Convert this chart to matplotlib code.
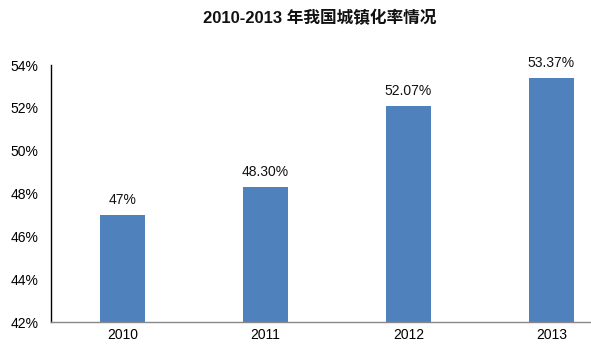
import matplotlib.pyplot as plt

plt.rcParams['font.family'] = ['Liberation Sans', 'Noto Sans CJK SC', 'DejaVu Sans']

# data
years = ["2010", "2011", "2012", "2013"]
rates = [47.00, 48.30, 52.07, 53.37]
rate_labels = ["47%", "48.30%", "52.07%", "53.37%"]
y_ticks = [42, 44, 46, 48, 50, 52, 54]

fig = plt.figure(figsize=(5.91, 3.55), dpi=100)
ax = fig.add_axes([51 / 591, (355 - 322) / 355, 572 / 591, (322 - 65) / 355])

x = range(len(years))
bars = ax.bar(x, rates, width=0.31, color="#4F81BD", bottom=0)

for xi, v, lab in zip(x, rates, rate_labels):
    ax.annotate(lab, (xi, v), xytext=(0, 6), textcoords="offset points",
                ha="center", va="bottom", fontsize=10, color="#111111")

ax.set_xlim(-0.5, 3.5)
ax.set_ylim(42, 54)
ax.set_xticks(list(x))
ax.set_xticklabels(years, fontsize=10)
ax.set_yticks(y_ticks)
ax.set_yticklabels([f"{t}%" for t in y_ticks], fontsize=10)
ax.tick_params(length=0)
ax.tick_params(axis="y", pad=9)
ax.tick_params(axis="x", pad=4)

for s in ["top", "right"]:
    ax.spines[s].set_visible(False)
ax.spines["left"].set_color("black")
ax.spines["left"].set_linewidth(1)
ax.spines["bottom"].set_color("#888888")
ax.spines["bottom"].set_linewidth(1)

fig.text(320 / 591, 1 - 18 / 355, "2010-2013 年我国城镇化率情况", ha="center", va="center",
         fontsize=12, fontweight="bold", color="#111111")

fig.savefig("out.png", dpi=100)
